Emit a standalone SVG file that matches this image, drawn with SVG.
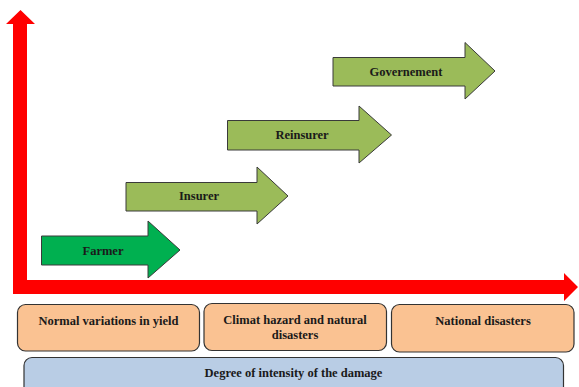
<svg xmlns="http://www.w3.org/2000/svg" width="579" height="387" viewBox="0 0 579 387">
<style>
.lbl{font-family:"Liberation Serif","Times New Roman",serif;font-weight:bold;font-size:12.5px;fill:#1a1a1a;text-anchor:middle}
.arr{stroke:#3a3a3a;stroke-width:1}
.olive{fill:#9BBB59}
.green{fill:#00B050}
.box{fill:#FAC292;stroke:#333;stroke-width:1.2}
.blue{fill:#B9CDE5;stroke:#333;stroke-width:1.2}
.axis{fill:#FF0000}
</style>
<rect width="579" height="387" fill="#fff"/>
<g id="axes">
<polygon class="axis" points="13,294 13,24 6,24 20.5,10 35,24 27,24 27,280 564,280 564,273 578,287 564,301 564,294"/>
</g>
<g id="farmer">
<polygon class="arr green" points="41.5,236 148,236 148,221 180,250 148,278 148,265 41.5,265"/>
<text class="lbl" x="103" y="254.5">Farmer</text>
</g>
<g id="insurer">
<polygon class="arr olive" points="126,182.5 257,182.5 257,167 288,196 257,224 257,211 126,211"/>
<text class="lbl" x="199" y="200">Insurer</text>
</g>
<g id="reinsurer">
<polygon class="arr olive" points="227.5,120.5 359,120.5 359,106 391.5,135 359,163 359,150 227.5,150"/>
<text class="lbl" x="302" y="139">Reinsurer</text>
</g>
<g id="governement">
<polygon class="arr olive" points="333,57.5 465,57.5 465,42.5 495,71 465,99 465,86 333,86"/>
<text class="lbl" x="406" y="75.5">Governement</text>
</g>
<g id="normal">
<rect class="box" x="17.5" y="304.5" width="182" height="46.5" rx="8"/>
<text class="lbl" x="108.5" y="324.5">Normal variations in yield</text>
</g>
<g id="climat">
<rect class="box" x="204" y="303.5" width="182.5" height="47" rx="8"/>
<text class="lbl" x="295" y="323.5">Climat hazard and natural</text>
<text class="lbl" x="295" y="339">disasters</text>
</g>
<g id="national">
<rect class="box" x="391.5" y="304.5" width="182.5" height="47.5" rx="8"/>
<text class="lbl" x="483" y="324.5">National disasters</text>
</g>
<g id="degree">
<rect class="blue" x="24" y="357.5" width="539.5" height="40" rx="8"/>
<text class="lbl" x="293.5" y="377">Degree of intensity of the damage</text>
</g>
<g id="connectors"></g>
</svg>
